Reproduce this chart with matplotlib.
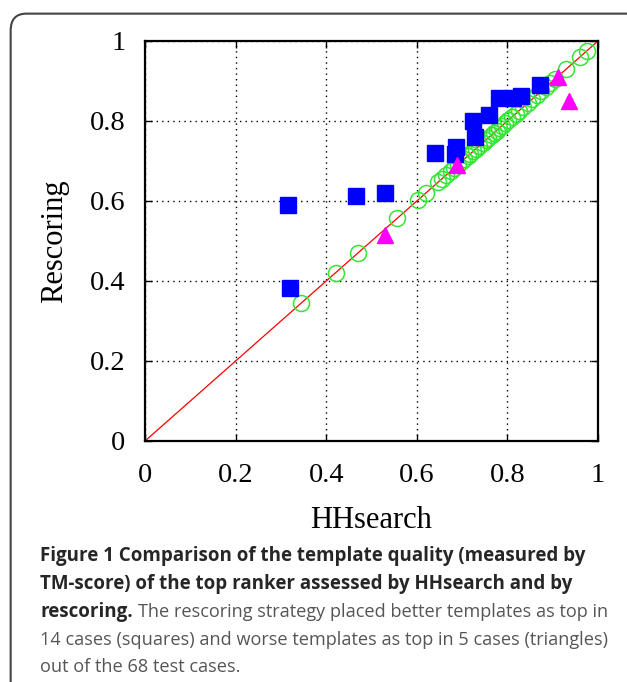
import matplotlib
matplotlib.use("Agg")
import matplotlib.pyplot as plt
from matplotlib.patches import FancyBboxPatch

# squares: rescoring picked a better template
sq_x = [0.316, 0.320, 0.466, 0.530, 0.640, 0.686, 0.684, 0.728, 0.723, 0.759, 0.781, 0.812, 0.830, 0.872]
sq_y = [0.590, 0.383, 0.612, 0.620, 0.720, 0.736, 0.717, 0.760, 0.800, 0.815, 0.857, 0.858, 0.862, 0.890]

# triangles: rescoring picked a worse template
tri_x = [0.530, 0.689, 0.912, 0.937]
tri_y = [0.515, 0.690, 0.909, 0.851]

# circles: same template (on the diagonal)
circ_x = [0.344, 0.421, 0.470, 0.557, 0.603, 0.620, 0.647, 0.655, 0.665, 0.675, 0.682,
          0.690, 0.700, 0.705, 0.712, 0.718, 0.725, 0.730, 0.738, 0.745, 0.752, 0.758,
          0.765, 0.770, 0.776, 0.782, 0.788, 0.795, 0.802, 0.810, 0.818, 0.826, 0.835,
          0.845, 0.855, 0.865, 0.875, 0.885, 0.895, 0.905, 0.930, 0.960, 0.975]
circ_y = [0.344, 0.421, 0.470, 0.557, 0.603, 0.620, 0.647, 0.655, 0.665, 0.675, 0.682,
          0.690, 0.700, 0.705, 0.712, 0.718, 0.725, 0.730, 0.738, 0.745, 0.752, 0.758,
          0.765, 0.770, 0.776, 0.782, 0.788, 0.795, 0.802, 0.810, 0.818, 0.826, 0.835,
          0.845, 0.855, 0.865, 0.875, 0.885, 0.895, 0.905, 0.930, 0.960, 0.975]

ticks = [0, 0.2, 0.4, 0.6, 0.8, 1]
tick_labels = ["0", "0.2", "0.4", "0.6", "0.8", "1"]

fig = plt.figure(figsize=(6.27, 6.82), dpi=100)

# caption frame (right and bottom edges run off the image)
frame = FancyBboxPatch((0.017, -0.05), 1.05, 1.03, boxstyle="round,pad=0,rounding_size=0.025",
                       transform=fig.transFigure, facecolor="none", edgecolor="#444444",
                       linewidth=1.5, zorder=-1)
fig.patches.append(frame)

ax = fig.add_axes([0.2313, 0.3534, 0.7225, 0.5865])
ax.set_zorder(2)
ax.plot([0, 1], [0, 1], color="red", linewidth=0.9, zorder=2)
ax.plot(circ_x, circ_y, linestyle="none", marker="o", markersize=11.5, markerfacecolor="none",
        markeredgecolor="#33e633", markeredgewidth=1.1, zorder=3)
ax.plot(sq_x, sq_y, linestyle="none", marker="s", markersize=11, color="#0000ff", zorder=4)
ax.plot(tri_x, tri_y, linestyle="none", marker="^", markersize=11.5, color="#ff00ff", zorder=5)

ax.set_xlim(0, 1)
ax.set_ylim(0, 1)
ax.set_xticks(ticks)
ax.set_yticks(ticks)
ax.set_xticklabels(tick_labels, family="Liberation Serif", fontsize=20.5)
ax.set_yticklabels(tick_labels, family="Liberation Serif", fontsize=20.5)
ax.tick_params(direction="in", top=True, right=True, length=5, width=1, pad=14)
ax.tick_params(axis="x", pad=16)
ax.grid(True, linestyle=(0, (1, 3)), color="black", linewidth=1)
for s in ax.spines.values():
    s.set_linewidth(1.6)

ax.set_xlabel("HHsearch", family="Liberation Serif", fontsize=22, labelpad=13)
ax.set_ylabel("Rescoring", family="Liberation Serif", fontsize=22, labelpad=15)

# caption
cap_font = "Open Sans"
bold_size = 13.5
reg_size = 13.1
x0 = 40 / 627
lines_y = [556, 584, 612, 640, 667]
fig.text(x0, 1 - lines_y[0] / 682, "Figure 1 Comparison of the template quality (measured by",
         family=cap_font, fontsize=bold_size, weight="bold", color="#262626", va="center")
fig.text(x0, 1 - lines_y[1] / 682, "TM-score) of the top ranker assessed by HHsearch and by",
         family=cap_font, fontsize=bold_size, weight="bold", color="#262626", va="center")
b = fig.text(x0, 1 - lines_y[2] / 682, "rescoring.", family=cap_font, fontsize=bold_size,
             weight="bold", color="#262626", va="center")
fig.canvas.draw()
ext = b.get_window_extent(renderer=fig.canvas.get_renderer())
fig.text(ext.x1 / fig.bbox.width + 5 / 627, 1 - lines_y[2] / 682,
         "The rescoring strategy placed better templates as top in",
         family=cap_font, fontsize=reg_size, color="#555555", va="center")
fig.text(x0, 1 - lines_y[3] / 682,
         "14 cases (squares) and worse templates as top in 5 cases (triangles)",
         family=cap_font, fontsize=reg_size, color="#555555", va="center")
fig.text(x0, 1 - lines_y[4] / 682, "out of the 68 test cases.",
         family=cap_font, fontsize=reg_size, color="#555555", va="center")

fig.savefig("out.png", dpi=100)
